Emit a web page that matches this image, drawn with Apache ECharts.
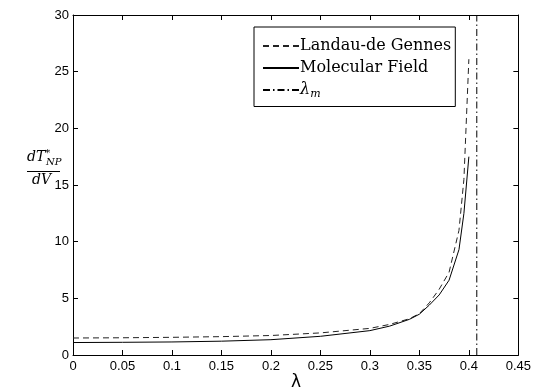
<!DOCTYPE html>
<html><head><meta charset="utf-8">
<script src="https://cdn.jsdelivr.net/npm/echarts@6/dist/echarts.min.js"></script>
<style>html,body{margin:0;padding:0;background:#fff}#c{width:534px;height:392px}</style>
</head><body><div id="c"></div>
<script>
const lambdaVals = [0, 0.05, 0.1, 0.15, 0.2, 0.25, 0.3, 0.32, 0.34, 0.35, 0.36, 0.37, 0.38, 0.39, 0.395, 0.4];
const molecularField = [1.1, 1.12, 1.15, 1.22, 1.35, 1.65, 2.15, 2.55, 3.15, 3.6, 4.4, 5.3, 6.6, 9.3, 12.5, 17.5];
const landauDeGennes = [1.5, 1.52, 1.56, 1.62, 1.72, 1.95, 2.35, 2.7, 3.2, 3.65, 4.6, 5.8, 7.3, 11.0, 15.5, 26.1];
const lambdaM = 0.408;
const lambdaMSpan = [0, 30];
const xTicks = ['0','0.05','0.1','0.15','0.2','0.25','0.3','0.35','0.4','0.45'];
const yTicks = [0, 5, 10, 15, 20, 25, 30];

const chart = echarts.init(document.getElementById('c'), null, {renderer:'canvas'});
const pair = (xs, ys) => xs.map((x, i) => [x, ys[i]]);
const axisCommon = {
  axisLine: {show: true, onZero: false, lineStyle: {color: '#000', width: 1}},
  axisTick: {show: true, inside: true, length: 5, lineStyle: {color: '#000'}},
  splitLine: {show: false}
};
const labelFont = {color: '#000', fontFamily: 'Liberation Sans, Arial, sans-serif', fontSize: 13};
chart.setOption({
  animation: false,
  grid: {left: 73, right: 13, top: 15, bottom: 37},
  xAxis: [
    Object.assign({type: 'value', min: 0, max: 0.45, interval: 0.05, position: 'bottom',
      axisLabel: Object.assign({margin: 5, formatter: (v) => xTicks[Math.round(v / 0.05)]}, labelFont)}, axisCommon),
    Object.assign({type: 'value', min: 0, max: 0.45, interval: 0.05, position: 'top',
      axisLabel: {show: false}}, axisCommon)
  ],
  yAxis: [
    Object.assign({type: 'value', min: yTicks[0], max: yTicks[yTicks.length-1], interval: 5, position: 'left',
      axisLabel: Object.assign({margin: 4}, labelFont)}, axisCommon),
    Object.assign({type: 'value', min: 0, max: 30, interval: 5, position: 'right',
      axisLabel: {show: false}}, axisCommon)
  ],
  legend: {
    left: 254, top: 27, orient: 'vertical', itemWidth: 36, itemHeight: 14, itemGap: 6,
    padding: [11, 4, 7, 8],
    backgroundColor: '#fff', borderColor: '#000', borderWidth: 1, borderRadius: 0,
    itemStyle: {opacity: 0},
    data: [{name: 'Landau-de Gennes'}, {name: 'Molecular Field'}, {name: 'λm'}],
    formatter: (n) => n === 'λm' ? '{i|λ}{s|m}' : n,
    textStyle: {fontFamily: 'DejaVu Serif, Liberation Serif, serif', fontSize: 16, color: '#000', padding: [0,0,0,-4],
      rich: {i: {fontFamily: 'DejaVu Serif, serif', fontStyle: 'italic', fontSize: 16},
             s: {fontFamily: 'DejaVu Serif, serif', fontStyle: 'italic', fontSize: 11, verticalAlign: 'bottom', padding: [8,0,0,0]}}}
  },
  series: [
    {name: 'Landau-de Gennes', type: 'line', data: pair(lambdaVals, landauDeGennes), symbol: 'none',
     itemStyle: {color: '#000'}, lineStyle: {color: '#222', width: 1, type: [6, 4]}},
    {name: 'Molecular Field', type: 'line', data: pair(lambdaVals, molecularField), symbol: 'none',
     itemStyle: {color: '#000'}, lineStyle: {color: '#000', width: 1, type: 'solid'}},
    {name: 'λm', type: 'line', data: lambdaMSpan.map(v => [lambdaM, v]), symbol: 'none',
     itemStyle: {color: '#000'}, lineStyle: {color: '#000', width: 1, type: [7, 3, 1.5, 3]}}
  ],
  graphic: [
    {type: 'text', left: 27, top: 148, style: {text: '{i|dT}{sp|*}', rich: {
      i: {fontFamily: 'DejaVu Serif, serif', fontStyle: 'italic', fontSize: 14, fill: '#000'},
      sp: {fontFamily: 'DejaVu Serif, serif', fontSize: 10, fill: '#000', verticalAlign: 'top', padding: [0,0,8,0]}}}},
    {type: 'text', left: 46, top: 157, style: {text: 'NP', fontFamily: 'DejaVu Serif, serif', fontStyle: 'italic', fontSize: 10, fill: '#000'}},
    {type: 'line', shape: {x1: 27, y1: 171.5, x2: 60, y2: 171.5}, style: {stroke: '#000', lineWidth: 1}},
    {type: 'text', left: 32, top: 173, style: {text: 'dV', fontFamily: 'DejaVu Serif, serif', fontStyle: 'italic', fontSize: 14, fill: '#000'}},
    {type: 'text', left: 291, top: 374, style: {text: 'λ', fontFamily: 'DejaVu Sans, sans-serif', fontSize: 17, fill: '#000'}}
  ]
});
</script></body></html>
